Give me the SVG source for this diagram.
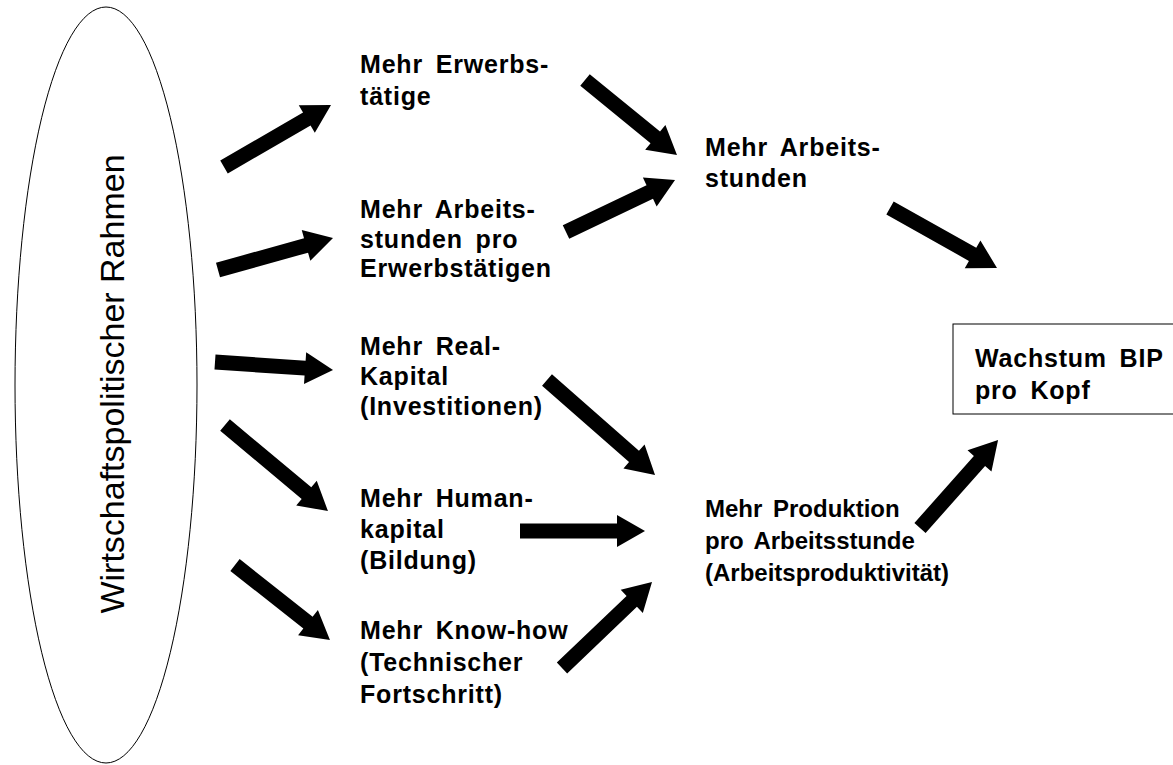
<svg xmlns="http://www.w3.org/2000/svg" width="1173" height="765" viewBox="0 0 1173 765">
<style>
.lbl{font-family:"Liberation Sans",Arial,sans-serif;font-weight:bold;font-size:25px;letter-spacing:0.8px;word-spacing:5px;fill:#000}
.lbl2{font-family:"Liberation Sans",Arial,sans-serif;font-weight:bold;font-size:24px;word-spacing:4px;fill:#000}
.vert{font-family:"Liberation Sans",Arial,sans-serif;font-size:34px;fill:#000}
.arr{fill:#000;stroke:none}
</style>
<rect width="1173" height="765" fill="#fff"/>
<g id="rahmen">
<ellipse cx="106" cy="385" rx="91" ry="378" fill="none" stroke="#000" stroke-width="1"/>
<text class="vert" text-anchor="middle" transform="translate(124,384) rotate(-90)">Wirtschaftspolitischer Rahmen</text>
</g>
<g id="erwerbstaetige"><text class="lbl" x="360" y="73">Mehr Erwerbs-</text><text class="lbl" x="360" y="105">tätige</text></g>
<g id="stunden-pro"><text class="lbl" x="360" y="218">Mehr Arbeits-</text><text class="lbl" x="360" y="248">stunden pro</text><text class="lbl" x="360" y="277">Erwerbstätigen</text></g>
<g id="realkapital"><text class="lbl" x="360" y="355">Mehr Real-</text><text class="lbl" x="360" y="385">Kapital</text><text class="lbl" x="360" y="415">(Investitionen)</text></g>
<g id="humankapital"><text class="lbl" x="360" y="507">Mehr Human-</text><text class="lbl" x="360" y="538">kapital</text><text class="lbl" x="360" y="569">(Bildung)</text></g>
<g id="knowhow"><text class="lbl" x="360" y="639">Mehr Know-how</text><text class="lbl" x="360" y="671">(Technischer</text><text class="lbl" x="360" y="703">Fortschritt)</text></g>
<g id="arbeitsstunden"><text class="lbl" x="705" y="156">Mehr Arbeits-</text><text class="lbl" x="705" y="187">stunden</text></g>
<g id="produktion"><text class="lbl2" x="705" y="517">Mehr Produktion</text><text class="lbl2" x="705" y="549">pro Arbeitsstunde</text><text class="lbl2" x="705" y="581">(Arbeitsproduktivität)</text></g>
<g id="wachstum"><rect x="953" y="324" width="230" height="90" fill="#fff" stroke="#000" stroke-width="1"/><text class="lbl" x="975" y="367">Wachstum BIP</text><text class="lbl" x="975" y="399">pro Kopf</text></g>
<g id="connectors" class="arr">
<polygon transform="translate(224,167) rotate(-30.1)" points="0,-7.5 95.7,-7.5 95.7,-16 123.7,0 95.7,16 95.7,7.5 0,7.5"/>
<polygon transform="translate(585,80) rotate(39.2)" points="0,-7.5 90.7,-7.5 90.7,-16 118.7,0 90.7,16 90.7,7.5 0,7.5"/>
<polygon transform="translate(566,232) rotate(-25.5)" points="0,-7.5 92.8,-7.5 92.8,-16 120.8,0 92.8,16 92.8,7.5 0,7.5"/>
<polygon transform="translate(890,208) rotate(29.3)" points="0,-7.5 94.7,-7.5 94.7,-16 122.7,0 94.7,16 94.7,7.5 0,7.5"/>
<polygon transform="translate(218,270) rotate(-15.6)" points="0,-7.5 91.4,-7.5 91.4,-16 119.4,0 91.4,16 91.4,7.5 0,7.5"/>
<polygon transform="translate(215,362) rotate(3.9)" points="0,-7.5 90.3,-7.5 90.3,-16 118.3,0 90.3,16 90.3,7.5 0,7.5"/>
<polygon transform="translate(225,425) rotate(39.9)" points="0,-7.5 106.2,-7.5 106.2,-16 134.2,0 106.2,16 106.2,7.5 0,7.5"/>
<polygon transform="translate(235,565) rotate(38.3)" points="0,-7.5 93,-7.5 93,-16 121,0 93,16 93,7.5 0,7.5"/>
<polygon transform="translate(547,380) rotate(41.3)" points="0,-7.5 115.8,-7.5 115.8,-16 143.8,0 115.8,16 115.8,7.5 0,7.5"/>
<polygon transform="translate(520,531) rotate(0)" points="0,-7.5 97,-7.5 97,-16 125,0 97,16 97,7.5 0,7.5"/>
<polygon transform="translate(562,668) rotate(-43.7)" points="0,-7.5 96.5,-7.5 96.5,-16 124.5,0 96.5,16 96.5,7.5 0,7.5"/>
<polygon transform="translate(920,528) rotate(-48.4)" points="0,-7.5 89.6,-7.5 89.6,-16 117.6,0 89.6,16 89.6,7.5 0,7.5"/>
</g>
</svg>
